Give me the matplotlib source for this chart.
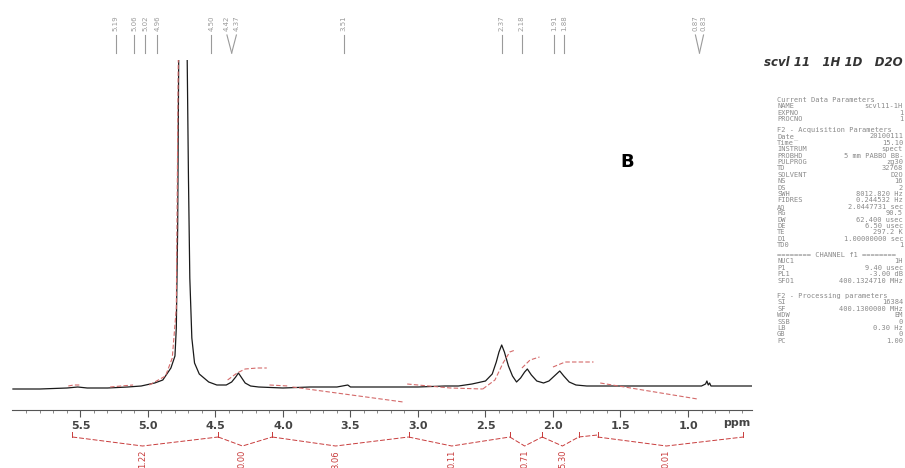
import numpy as np
import matplotlib
matplotlib.use('Agg')
import matplotlib.pyplot as plt

# spectrum (ppm, height above baseline)
ppm = [6.00, 5.80, 5.60, 5.52, 5.45, 5.30, 5.15, 5.05, 4.95, 4.89, 4.83, 4.80,
       4.79, 4.78, 4.77, 4.75, 4.73, 4.715, 4.70, 4.69, 4.675, 4.655, 4.62, 4.55,
       4.49, 4.42, 4.38, 4.35, 4.33, 4.31, 4.28, 4.24, 4.18, 4.00, 3.80, 3.60,
       3.52, 3.50, 3.30, 3.00, 2.80, 2.70, 2.60, 2.50, 2.45, 2.42, 2.40, 2.38,
       2.36, 2.33, 2.30, 2.27, 2.24, 2.21, 2.19, 2.16, 2.12, 2.07, 2.03, 1.99,
       1.95, 1.92, 1.88, 1.83, 1.75, 1.50, 1.20, 0.90, 0.87, 0.86, 0.85, 0.84,
       0.83, 0.70, 0.53]
inten = [-1, -1, 0, 1, 0, 0, 1, 2, 5, 8, 20, 32,
         60, 160, 380, 470, 470, 400, 210, 110, 50, 25, 14, 6,
         3, 3, 6, 11, 15, 11, 5, 2, 1, 0, 1, 1,
         3, 1, 1, 1, 2, 2, 4, 7, 14, 26, 36, 43,
         36, 22, 12, 6, 10, 16, 19, 13, 7, 5, 7, 12,
         17, 12, 6, 3, 2, 2, 2, 2, 4, 7, 3, 5,
         2, 2, 2]

# integral traces
integrals = [
    ([5.59, 5.55, 5.50], [2, 3, 3]),
    ([5.28, 5.20, 5.11], [1, 2, 3]),
    ([4.99, 4.87, 4.82, 4.79, 4.78, 4.77], [3, 12, 30, 80, 250, 420]),
    ([4.41, 4.37, 4.34, 4.28, 4.19, 4.12], [8, 12, 15, 19, 20, 20]),
    ([4.10, 3.96], [3, 2]),
    ([3.93, 3.11], [1, -14]),
    ([3.08, 2.76, 2.52], [4, 0, -1]),
    ([2.52, 2.43, 2.37, 2.32, 2.28], [-1, 8, 25, 36, 38]),
    ([2.23, 2.17, 2.10], [20, 28, 31]),
    ([2.00, 1.91, 1.70], [21, 26, 26]),
    ([1.65, 0.93], [5, -11]),
]

# integration brackets: left, dip, right, value
br_left = [5.56, 4.48, 4.08, 3.07, 2.32, 2.08, 1.67]
br_dip = [5.04, 4.30, 3.61, 2.75, 2.21, 1.93, 1.16]
br_right = [4.48, 4.08, 3.07, 2.32, 2.08, 1.81, 0.59]
br_vals = ["1.22", "0.00", "3.06", "0.11", "0.71", "5.30", "0.01"]

# peak picking labels
pk_text = ["5.19", "5.06", "5.02", "4.96", "4.50", "4.42", "4.37", "3.51",
           "2.37", "2.18", "1.91", "1.88", "0.87", "0.83"]
pk_lab = [5.24, 5.10, 5.02, 4.93, 4.53, 4.415, 4.345, 3.55,
          2.38, 2.23, 1.99, 1.92, 0.945, 0.885]
pk_pos = [5.24, 5.10, 5.02, 4.93, 4.53, 4.38, 4.38, 3.55,
          2.38, 2.23, 1.99, 1.92, 0.915, 0.915]

params = [
    ["Current Data Parameters", ""], ["NAME", "scvl11-1H"], ["EXPNO", "1"],
    ["PROCNO", "1"],
]
params2 = [
    ["F2 - Acquisition Parameters", ""], ["Date_", "20100111"], ["Time", "15.10"],
    ["INSTRUM", "spect"], ["PROBHD", "5 mm PABBO BB-"], ["PULPROG", "zg30"],
    ["TD", "32768"], ["SOLVENT", "D2O"], ["NS", "16"], ["DS", "2"],
    ["SWH", "8012.820 Hz"], ["FIDRES", "0.244532 Hz"], ["AQ", "2.0447731 sec"],
    ["RG", "90.5"], ["DW", "62.400 usec"], ["DE", "6.50 usec"],
    ["TE", "297.2 K"], ["D1", "1.00000000 sec"], ["TD0", "1"],
]
params3 = [
    ["======== CHANNEL f1 ========", ""], ["NUC1", "1H"], ["P1", "9.40 usec"],
    ["PL1", "-3.00 dB"], ["SFO1", "400.1324710 MHz"],
]
params4 = [
    ["F2 - Processing parameters", ""], ["SI", "16384"],
    ["SF", "400.1300000 MHz"], ["WDW", "EM"], ["SSB", "0"],
    ["LB", "0.30 Hz"], ["GB", "0"], ["PC", "1.00"],
]

W, H = 905, 468
fig = plt.figure(figsize=(W / 100, H / 100), dpi=100)
ax = fig.add_axes([12 / W, (H - 410) / H, 740 / W, 350 / H])
ax.set_xlim(6.007, 0.526)
ax.set_ylim(-22, 328)

ax.plot(ppm, inten, color='#1a1a1a', lw=0.9)
for xs, ys in integrals:
    ax.plot(xs, ys, color='#d46a6a', lw=0.8, ls=(0, (4, 2)))

red = '#c83c3c'
for l, d, r, v in zip(br_left, br_dip, br_right, br_vals):
    ax.plot([l, d, r], [-49, -58, -49], color=red, lw=0.7, ls=(0, (5, 2)),
            clip_on=False)
    ax.plot([l, l], [-49, -44], color=red, lw=0.7, clip_on=False)
    ax.plot([r, r], [-49, -44], color=red, lw=0.7, clip_on=False)
    ax.text(d, -62, v, rotation=90, ha='center', va='top', color=red,
            fontsize=6, clip_on=False)
ax.plot([1.81, 1.67], [-49, -47], color=red, lw=0.7, ls=(0, (5, 2)),
        clip_on=False)

for t, xl, xp in zip(pk_text, pk_lab, pk_pos):
    ax.plot([xl, xp], [353, 335], color='#9a9a9a', lw=0.8, clip_on=False)
    ax.text(xl, 357, t, rotation=90, ha='center', va='bottom', color='#9a9a9a',
            fontsize=5, clip_on=False)

for s in ['top', 'left', 'right']:
    ax.spines[s].set_visible(False)
ax.spines['bottom'].set_color('#555555')
ax.spines['bottom'].set_linewidth(0.8)
ax.set_yticks([])
ax.set_xticks([5.5, 5.0, 4.5, 4.0, 3.5, 3.0, 2.5, 2.0, 1.5, 1.0])
ax.set_xticks(np.arange(0.6, 6.0, 0.1), minor=True)
ax.tick_params(axis='x', which='major', length=5, width=0.8, color='#555555',
               labelsize=8, labelcolor='#444444', pad=3)
ax.tick_params(axis='x', which='minor', length=2.5, width=0.6, color='#777777')
for lb in ax.get_xticklabels():
    lb.set_fontweight('bold')
ax.text(0.64, -35, "ppm", ha='center', va='center', fontsize=8,
        fontweight='bold', color='#444444', clip_on=False)

fig.text(903 / W, 1 - 62 / H, "scvl 11   1H 1D   D2O", ha='right', va='center',
         fontsize=8.5, fontweight='bold', fontstyle='italic', color='#333333')
fig.text(627 / W, 1 - 162 / H, "B", ha='center', va='center', fontsize=13,
         fontweight='bold', color='black')

step = 6.4
for block, y0 in [(params, 100), (params2, 130), (params3, 255), (params4, 296)]:
    for i, (name, val) in enumerate(block):
        y = 1 - (y0 + i * step) / H
        fig.text(777 / W, y, name, ha='left', va='center', fontsize=5,
                 family='DejaVu Sans Mono', color='#8a8a8a')
        if val:
            fig.text(903 / W, y, val, ha='right', va='center', fontsize=5,
                     family='DejaVu Sans Mono', color='#8a8a8a')

fig.savefig('out.png', dpi=100)
